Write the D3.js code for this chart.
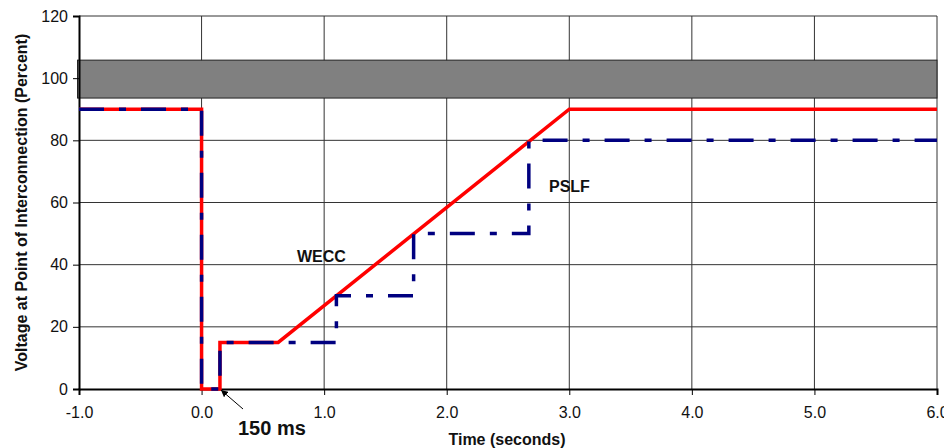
<!DOCTYPE html>
<html>
<head>
<meta charset="utf-8">
<script src="https://cdn.jsdelivr.net/npm/d3@7"></script>
<style>
  body { margin: 0; background: #fff; }
  svg text { font-family: "Liberation Sans", Arial, sans-serif; fill: #111; }
</style>
</head>
<body>
<svg id="chart" width="944" height="448"></svg>
<script>
// ride-through curves, time in seconds vs voltage in percent
const wecc = [
  [-1, 90], [0, 90], [0, 0], [0.15, 0], [0.15, 15], [0.625, 15], [3, 90], [6, 90]
];
const pslf = [
  [-1, 90], [0, 90], [0, 0], [0.15, 0], [0.15, 15], [1.1, 15], [1.1, 30],
  [1.73, 30], [1.73, 50], [2.67, 50], [2.67, 80], [6, 80]
];
// shaded band around nominal voltage
const band = [93.6, 105.8];
const xTicks = [-1, 0, 1, 2, 3, 4, 5, 6];
const yTicks = [0, 20, 40, 60, 80, 100, 120];

let svg = d3.select('#chart');
let margin = { left: 79, right: 7, top: 16, bottom: 59 };
let W = 944, H = 448;

let x = d3.scaleLinear().domain([-1, 6]).range([margin.left, W - margin.right]);
let y = d3.scaleLinear().domain([0, 120]).range([H - margin.bottom, margin.top]);

// grid
let grid = svg.append('g').attr('class', 'grid');
grid.selectAll('.vg').data(xTicks.slice(1))
  .enter().append('line')
  .attr('x1', d => x(d)).attr('x2', d => x(d))
  .attr('y1', y(0)).attr('y2', y(120))
  .attr('stroke', '#333').attr('stroke-width', 1);
grid.selectAll('.hg').data(yTicks.slice(1))
  .enter().append('line')
  .attr('x1', x(-1)).attr('x2', x(6))
  .attr('y1', d => y(d)).attr('y2', d => y(d))
  .attr('stroke', '#333').attr('stroke-width', 1);

// grey band
svg.append('rect')
  .attr('x', x(-1) - 1.5).attr('width', x(6) - x(-1) + 1.5)
  .attr('y', y(band[1])).attr('height', y(band[0]) - y(band[1]))
  .attr('fill', '#808080').attr('stroke', '#222').attr('stroke-width', 1);

// axes (plain hyphen for negatives, like the original)
let fmt1 = d => d.toFixed(1);
let xAxis = d3.axisBottom(x).tickValues(xTicks).tickFormat(fmt1)
  .tickSize(6).tickPadding(10);
let yAxis = d3.axisLeft(y).tickValues(yTicks).tickFormat(d => String(d))
  .tickSize(6).tickPadding(5);

let gx = svg.append('g').attr('transform', `translate(0,${y(0)})`).call(xAxis);
let gy = svg.append('g').attr('transform', `translate(${x(-1)},0)`).call(yAxis);
[gx, gy].forEach(g => {
  g.select('.domain').attr('stroke', '#000').attr('stroke-width', 2);
  g.selectAll('.tick line').attr('stroke', '#000');
  g.selectAll('.tick text').attr('font-size', 16).attr('fill', '#222');
});
gx.selectAll('.tick text').attr('dy', '0.8em');

// curves
let line = d3.line().x(d => x(d[0])).y(d => y(d[1]));
svg.append('path').datum(wecc)
  .attr('d', line).attr('fill', 'none')
  .attr('stroke', '#ff0000').attr('stroke-width', 3.5)
  .attr('stroke-linejoin', 'miter');
svg.append('path').datum(pslf)
  .attr('d', line).attr('fill', 'none')
  .attr('stroke', '#000080').attr('stroke-width', 3.5)
  .attr('stroke-dasharray', '25,15,7,15');

// labels
svg.append('text').attr('x', 297).attr('y', 262)
  .attr('font-size', 16).attr('font-weight', 'bold').text('WECC');
svg.append('text').attr('x', 549).attr('y', 192)
  .attr('font-size', 16).attr('font-weight', 'bold').text('PSLF');

// 150 ms annotation
svg.append('defs').append('marker')
  .attr('id', 'arr').attr('viewBox', '0 0 10 10')
  .attr('refX', 10).attr('refY', 5)
  .attr('markerWidth', 7).attr('markerHeight', 7)
  .attr('orient', 'auto')
  .append('path').attr('d', 'M0,0 L10,5 L0,10 Z').attr('fill', '#000');
svg.append('line')
  .attr('x1', 243).attr('y1', 409)
  .attr('x2', x(0.15) + 1).attr('y2', y(0) + 1)
  .attr('stroke', '#000').attr('stroke-width', 1)
  .attr('marker-end', 'url(#arr)');
svg.append('text').attr('x', 238).attr('y', 435)
  .attr('font-size', 20).attr('font-weight', 'bold').text('150 ms');

// axis titles
svg.append('text')
  .attr('transform', `translate(27,${(y(0) + y(120)) / 2}) rotate(-90)`)
  .attr('text-anchor', 'middle')
  .attr('font-size', 16).attr('font-weight', 'bold')
  .text('Voltage at Point of Interconnection (Percent)');
svg.append('text').attr('x', 507).attr('y', 445)
  .attr('text-anchor', 'middle')
  .attr('font-size', 16).attr('font-weight', 'bold')
  .text('Time (seconds)');
</script>
</body>
</html>
